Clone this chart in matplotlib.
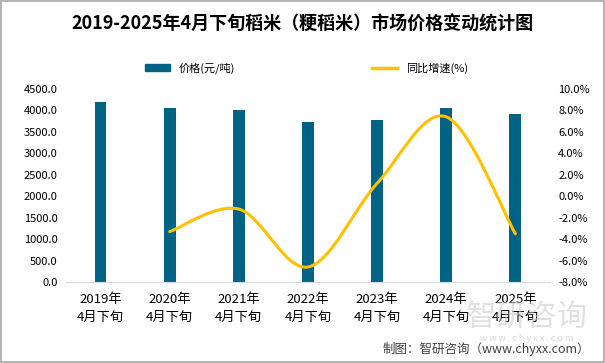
import numpy as np
import matplotlib
matplotlib.use('Agg')
from matplotlib import pyplot as plt
from matplotlib.path import Path
from matplotlib.patches import PathPatch, Rectangle
from matplotlib.lines import Line2D

plt.rcParams['font.family'] = ['Noto Sans CJK SC', 'DejaVu Sans']

years = ['2019年', '2020年', '2021年', '2022年', '2023年', '2024年', '2025年']
period = '4月下旬'
price = [4197, 4057, 4010, 3731, 3777, 4057, 3917]
growth = [None, -3.3, -1.2, -6.6, 1.2, 7.4, -3.5]

bar_color = '#006385'
line_color = '#FFC000'


def smooth_path(xs, ys, tension=1/6):
    # excel-style smoothed line as cubic bezier segments
    pts = list(zip(xs, ys))
    verts = [pts[0]]
    codes = [Path.MOVETO]
    n = len(pts)
    for i in range(n - 1):
        p0 = pts[i - 1] if i > 0 else pts[i]
        p1 = pts[i]
        p2 = pts[i + 1]
        p3 = pts[i + 2] if i + 2 < n else pts[i + 1]
        c1 = (p1[0] + (p2[0] - p0[0]) * tension, p1[1] + (p2[1] - p0[1]) * tension)
        c2 = (p2[0] - (p3[0] - p1[0]) * tension, p2[1] - (p3[1] - p1[1]) * tension)
        verts += [c1, c2, p2]
        codes += [Path.CURVE4] * 3
    return Path(verts, codes)


fig = plt.figure(figsize=(6.05, 3.63), dpi=100)
ax = fig.add_axes([0.109, 0.223, 0.8, 0.532])
x = np.arange(len(years))

ax.bar(x, price, width=0.17, color=bar_color, zorder=2)
ax.set_xlim(-0.5, len(years) - 0.5)
ax.set_ylim(0, 4500)
ax.set_yticks(np.arange(0, 4501, 500))
ax.set_yticklabels([f'{v:.1f}' for v in np.arange(0, 4501, 500)], fontsize=8)
ax.set_xticks(x)
ax.set_xticklabels([f'{y}\n{period}' for y in years], fontsize=9.5, linespacing=1.5)
for s in ['top', 'right', 'left']:
    ax.spines[s].set_visible(False)
ax.spines['bottom'].set_color('#d9d9d9')
ax.tick_params(length=0, pad=6)
ax.tick_params(axis='x', pad=8)

ax2 = ax.twinx()
ax2.set_ylim(-8, 10)
ax2.set_yticks(np.arange(-8, 10.1, 2))
ax2.set_yticklabels([f'{v:.1f}%' for v in np.arange(-8, 10.1, 2)], fontsize=8)
for s in ax2.spines.values():
    s.set_visible(False)
ax2.tick_params(length=0, pad=6)

gx = [i for i, g in enumerate(growth) if g is not None]
gy = [g for g in growth if g is not None]
ax2.add_patch(PathPatch(smooth_path(gx, gy), facecolor='none', edgecolor=line_color,
                        lw=2.2, capstyle='round', zorder=3))

fig.text(0.5, 0.935, '2019-2025年4月下旬稻米（粳稻米）市场价格变动统计图',
         ha='center', va='center', fontsize=13, fontweight='bold')

h1 = Rectangle((0, 0), 1, 1, color=bar_color)
h2 = Line2D([], [], color=line_color, lw=2.5)
fig.legend([h1], ['价格(元/吨)'], loc='center left', bbox_to_anchor=(0.233, 0.812),
           frameon=False, fontsize=8, handlelength=2.2, handleheight=0.5, borderaxespad=0)
fig.legend([h2], ['同比增速(%)'], loc='center left', bbox_to_anchor=(0.608, 0.812),
           frameon=False, fontsize=8, handlelength=2.2, borderaxespad=0)

# watermark
fig.text(0.87, 0.125, '智研咨询', ha='center', va='center', fontsize=22,
         color='#c8c8c8', alpha=0.55, zorder=0)
fig.text(0.87, 0.068, 'w w w . c h y x x . c o m', ha='center', va='center', fontsize=6.5,
         color='#c8c8c8', alpha=0.7, zorder=0)
fig.text(0.975, 0.038, '制图：智研咨询（www.chyxx.com）', ha='right', va='center',
         fontsize=9, color='#404040')

fig.patches.append(Rectangle((0.001, 0.002), 0.997, 0.995, transform=fig.transFigure,
                             fill=False, edgecolor='#a6a6a6', lw=1.2))

fig.savefig('out.png', dpi=100)
